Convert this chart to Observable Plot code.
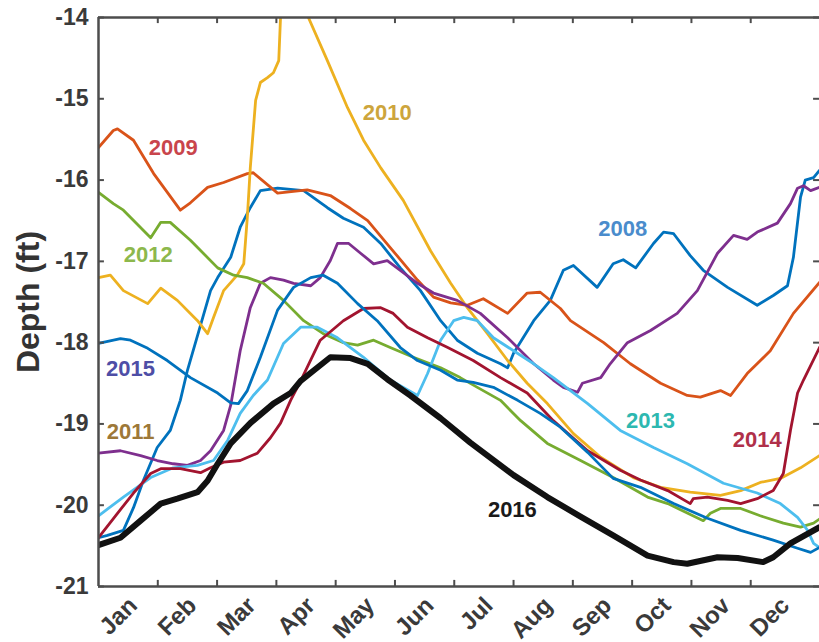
<!DOCTYPE html>
<html><head><meta charset="utf-8">
<script src="https://cdn.jsdelivr.net/npm/d3@7"></script>
<script src="https://cdn.jsdelivr.net/npm/@observablehq/plot@0.6"></script>
<style>html,body{margin:0;padding:0;background:#fff;} svg{display:block}</style>
</head><body><div id="chart"></div>
<script>
const months = ["Jan","Feb","Mar","Apr","May","Jun","Jul","Aug","Sep","Oct","Nov","Dec"];
const yTicks = [-21,-20,-19,-18,-17,-16,-15,-14];
const years = ["2008","2009","2010","2011","2012","2013","2014","2015","2016"];
const lineColors = ["#0072BD","#D95319","#EDB120","#7E2F8E","#77AC30","#4DBEEE","#A2142F","#0072BD","#111111"];
const labelColors = ["#4a8ccc","#c9454c","#cda53c","#9d7838","#8db84c","#2db8b0","#b0304a","#4e4ea6","#1a1a1a"];
const labelX = [8.84, 1.26, 4.87, 0.54, 0.84, 9.31, 11.11, 0.54, 6.98];
const labelY = [-16.60, -15.61, -15.17, -19.10, -16.92, -18.96, -19.20, -18.32, -20.06];

// [month position (0 = Jan 1), depth ft]
const d2008 = [[0,-20.40],[0.15,-20.37],[0.42,-20.31],[0.59,-20.03],[0.76,-19.69],[0.99,-19.29],[1.21,-19.08],[1.38,-18.71],[1.50,-18.34],[1.89,-17.36],[2.01,-17.20],[2.23,-16.95],[2.39,-16.58],[2.56,-16.34],[2.73,-16.13],[3.02,-16.10],[3.46,-16.13],[3.86,-16.34],[4.13,-16.47],[4.47,-16.58],[4.76,-16.78],[5.09,-17.08],[5.43,-17.36],[5.77,-17.73],[6.05,-17.97],[6.39,-18.13],[6.78,-18.26],[6.90,-18.31],[7.00,-18.13],[7.34,-17.73],[7.62,-17.48],[7.84,-17.11],[8.01,-17.05],[8.41,-17.32],[8.68,-17.03],[8.85,-16.98],[9.06,-17.08],[9.36,-16.78],[9.53,-16.64],[9.70,-16.66],[9.98,-16.93],[10.20,-17.11],[10.61,-17.32],[11.11,-17.54],[11.38,-17.42],[11.62,-17.30],[11.72,-16.95],[11.84,-16.21],[11.92,-16.00],[12.06,-15.97],[12.16,-15.88]];
const d2009 = [[0,-15.60],[0.25,-15.39],[0.32,-15.37],[0.59,-15.51],[0.93,-15.92],[1.38,-16.37],[1.55,-16.28],[1.84,-16.09],[2.11,-16.03],[2.51,-15.92],[2.61,-15.91],[3.02,-16.16],[3.52,-16.12],[3.91,-16.19],[4.25,-16.35],[4.54,-16.50],[4.92,-16.83],[5.38,-17.23],[5.65,-17.44],[5.94,-17.51],[6.22,-17.54],[6.49,-17.46],[6.90,-17.64],[7.23,-17.39],[7.45,-17.38],[7.79,-17.58],[7.96,-17.73],[8.52,-18.00],[8.97,-18.26],[9.48,-18.50],[9.93,-18.65],[10.15,-18.67],[10.49,-18.59],[10.66,-18.65],[10.94,-18.38],[11.33,-18.10],[11.72,-17.64],[12.16,-17.26]];
const d2010 = [[0,-17.20],[0.20,-17.17],[0.42,-17.36],[0.83,-17.52],[1.05,-17.33],[1.33,-17.48],[1.67,-17.73],[1.84,-17.89],[1.94,-17.69],[2.11,-17.36],[2.34,-17.17],[2.45,-17.03],[2.51,-16.46],[2.56,-15.85],[2.65,-15.02],[2.73,-14.80],[2.85,-14.74],[2.95,-14.68],[3.04,-14.53],[3.07,-14.00],[3.25,-13.70],[3.54,-14.00],[3.86,-14.53],[4.20,-15.11],[4.47,-15.51],[4.76,-15.85],[5.14,-16.25],[5.60,-16.87],[5.94,-17.27],[6.22,-17.57],[6.56,-17.89],[6.90,-18.22],[7.23,-18.50],[7.57,-18.75],[8.01,-19.12],[8.47,-19.41],[9.02,-19.66],[9.48,-19.78],[9.98,-19.84],[10.49,-19.88],[10.83,-19.82],[11.16,-19.72],[11.50,-19.67],[11.84,-19.54],[12.16,-19.39]];
const d2011 = [[0,-19.36],[0.37,-19.33],[0.71,-19.39],[0.99,-19.45],[1.26,-19.49],[1.50,-19.51],[1.72,-19.45],[1.89,-19.33],[2.11,-19.08],[2.23,-18.77],[2.39,-18.10],[2.56,-17.57],[2.73,-17.27],[2.90,-17.20],[3.12,-17.23],[3.29,-17.27],[3.58,-17.30],[3.74,-17.20],[3.91,-16.99],[4.03,-16.78],[4.22,-16.78],[4.42,-16.90],[4.64,-17.03],[4.87,-16.99],[5.09,-17.11],[5.38,-17.27],[5.65,-17.39],[6.05,-17.48],[6.44,-17.64],[6.90,-17.94],[7.34,-18.26],[7.67,-18.46],[7.84,-18.55],[8.08,-18.61],[8.16,-18.50],[8.47,-18.43],[8.63,-18.26],[8.92,-18.00],[9.31,-17.85],[9.76,-17.64],[10.10,-17.36],[10.44,-16.90],[10.71,-16.68],[10.94,-16.73],[11.11,-16.64],[11.45,-16.53],[11.67,-16.29],[11.79,-16.10],[11.89,-16.07],[12.01,-16.13],[12.16,-16.09]];
const d2012 = [[0,-16.15],[0.25,-16.29],[0.42,-16.37],[0.88,-16.71],[1.05,-16.52],[1.21,-16.52],[1.55,-16.74],[2.01,-17.08],[2.28,-17.17],[2.51,-17.20],[2.78,-17.27],[3.12,-17.48],[3.46,-17.73],[3.79,-17.89],[4.13,-18.00],[4.37,-18.03],[4.64,-17.97],[4.92,-18.06],[5.31,-18.18],[5.77,-18.31],[6.10,-18.43],[6.39,-18.55],[6.78,-18.71],[7.12,-18.96],[7.57,-19.24],[8.13,-19.45],[8.68,-19.66],[9.26,-19.90],[9.60,-19.98],[10.20,-20.19],[10.32,-20.10],[10.49,-20.04],[10.83,-20.04],[11.16,-20.13],[11.55,-20.22],[11.84,-20.27],[12.06,-20.22],[12.16,-20.17]];
const d2013 = [[0,-20.13],[0.42,-19.90],[0.88,-19.66],[1.26,-19.54],[1.67,-19.51],[1.94,-19.45],[2.18,-19.20],[2.39,-18.87],[2.61,-18.65],[2.85,-18.46],[3.12,-18.01],[3.41,-17.81],[3.69,-17.81],[4.03,-17.94],[4.47,-18.18],[4.92,-18.46],[5.38,-18.65],[5.55,-18.38],[5.77,-17.97],[5.99,-17.73],[6.16,-17.69],[6.39,-17.73],[6.66,-17.94],[7.00,-18.10],[7.34,-18.26],[7.67,-18.43],[8.25,-18.75],[8.80,-19.08],[9.36,-19.29],[9.93,-19.49],[10.54,-19.73],[11.11,-19.85],[11.50,-19.98],[11.79,-20.15],[11.96,-20.31],[12.06,-20.47],[12.16,-20.52]];
const d2014 = [[0,-20.40],[0.32,-20.10],[0.59,-19.85],[0.88,-19.61],[1.05,-19.55],[1.38,-19.55],[1.72,-19.60],[1.89,-19.54],[2.11,-19.47],[2.39,-19.45],[2.68,-19.36],[2.90,-19.17],[3.07,-18.99],[3.24,-18.71],[3.41,-18.47],[3.74,-17.97],[4.13,-17.73],[4.47,-17.58],[4.76,-17.57],[4.97,-17.64],[5.21,-17.81],[5.55,-17.94],[5.89,-18.06],[6.32,-18.22],[6.78,-18.43],[7.23,-18.62],[7.67,-18.96],[8.25,-19.33],[8.80,-19.57],[9.14,-19.69],[9.60,-19.82],[9.98,-19.98],[10.03,-19.92],[10.27,-19.90],[10.61,-19.94],[10.83,-19.98],[11.11,-19.92],[11.38,-19.82],[11.55,-19.61],[11.67,-19.08],[11.79,-18.62],[11.89,-18.46],[12.16,-18.06]];
const d2015 = [[0,-18.01],[0.37,-17.95],[0.54,-17.97],[0.83,-18.07],[1.16,-18.22],[1.55,-18.43],[2.01,-18.62],[2.23,-18.74],[2.36,-18.75],[2.51,-18.59],[2.73,-18.18],[3.02,-17.60],[3.29,-17.32],[3.58,-17.20],[3.79,-17.17],[4.03,-17.27],[4.37,-17.52],[4.70,-17.73],[5.09,-18.06],[5.38,-18.22],[5.77,-18.34],[6.05,-18.46],[6.32,-18.49],[6.66,-18.55],[7.07,-18.71],[7.45,-18.87],[7.79,-19.04],[8.25,-19.35],[8.68,-19.67],[9.14,-19.78],[9.70,-19.98],[10.27,-20.16],[10.83,-20.31],[11.38,-20.43],[11.79,-20.53],[12.01,-20.58],[12.16,-20.52]];
const d2016 = [[0,-20.49],[0.37,-20.40],[0.71,-20.19],[1.05,-19.98],[1.33,-19.92],[1.67,-19.84],[1.84,-19.70],[2.01,-19.49],[2.23,-19.24],[2.56,-18.99],[2.95,-18.75],[3.24,-18.62],[3.41,-18.47],[3.91,-18.18],[4.25,-18.19],[4.54,-18.26],[4.87,-18.45],[5.26,-18.65],[5.77,-18.93],[6.27,-19.23],[7.00,-19.63],[7.57,-19.90],[8.13,-20.14],[8.68,-20.37],[9.26,-20.62],[9.70,-20.70],[9.93,-20.72],[10.44,-20.64],[10.78,-20.65],[11.21,-20.70],[11.38,-20.64],[11.67,-20.47],[12.16,-20.27]];

const seriesData = [d2008,d2009,d2010,d2011,d2012,d2013,d2014,d2015,d2016];
const xMax = 12.16;
const monthBounds = months.slice(1).map((m, i) => i + 1);
const monthCenters = months.map((m, i) => i + 0.5);
const axisColor = "#4d4d4d";

const lineMarks = seriesData.map((pts, i) =>
  Plot.line(pts, {
    x: d => d[0], y: d => d[1],
    stroke: lineColors[i],
    strokeWidth: years[i] === "2016" ? 6 : 2.8,
    strokeLinejoin: "round", strokeLinecap: "round",
    clip: true
  })
);
const labelMarks = years.map((y, i) =>
  Plot.text([y], {x: () => labelX[i], y: () => labelY[i], text: d => d,
    fill: labelColors[i], fontSize: 22, fontWeight: "bold"})
);

const chart = Plot.plot({
  width: 819, height: 642,
  marginLeft: 98, marginRight: 0, marginTop: 17, marginBottom: 56,
  style: {fontFamily: "'Liberation Sans', Arial, Helvetica, sans-serif", background: "#fff", overflow: "visible"},
  x: {domain: [0, xMax], axis: null},
  y: {domain: [yTicks[0], yTicks[yTicks.length - 1]], axis: null},
  marks: [
    ...lineMarks,
    ...labelMarks,
    // frame (left, top, bottom)
    Plot.ruleX([0], {stroke: axisColor, strokeWidth: 2.5}),
    Plot.ruleY([yTicks[0], yTicks[yTicks.length - 1]], {stroke: axisColor, strokeWidth: 2.5}),
    // inward ticks
    Plot.ruleX(monthBounds, {x: d => d, y1: yTicks[0], y2: yTicks[0] + 0.075, stroke: axisColor, strokeWidth: 2}),
    Plot.ruleX(monthBounds, {x: d => d, y1: yTicks[yTicks.length - 1], y2: yTicks[yTicks.length - 1] - 0.075, stroke: axisColor, strokeWidth: 2}),
    Plot.ruleY(yTicks, {y: d => d, x1: 0, x2: 0.1, stroke: axisColor, strokeWidth: 2}),
    Plot.ruleY(yTicks, {y: d => d, x1: xMax - 0.1, x2: xMax, stroke: axisColor, strokeWidth: 2}),
    // y tick labels
    Plot.text(yTicks, {y: d => d, text: d => String(d), frameAnchor: "left", dx: -10, textAnchor: "end",
      lineAnchor: "middle", fontSize: 23, fontWeight: "bold", fill: "#3a3a3a"}),
    // month labels
    Plot.text(monthCenters, {x: d => d, text: (d, i) => months[i], frameAnchor: "bottom", dx: 5, dy: 15,
      rotate: -45, textAnchor: "end", lineAnchor: "middle", fontSize: 24, fontWeight: "bold", fill: "#3a3a3a"}),
    // y axis title
    Plot.text(["Depth (ft)"], {frameAnchor: "left", dx: -70, rotate: -90, text: d => d,
      textAnchor: "middle", lineAnchor: "middle", fontSize: 32, fontWeight: "bold", fill: "#333"})
  ]
});
document.getElementById("chart").appendChild(chart);
</script>
</body></html>
